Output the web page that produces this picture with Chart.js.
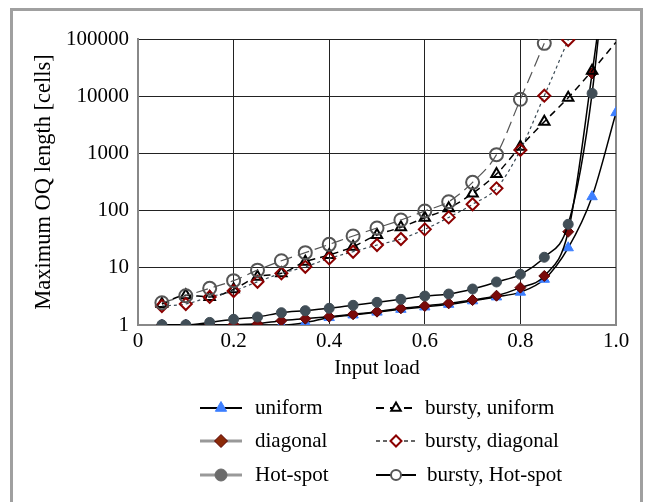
<!DOCTYPE html>
<html lang="en">
<head>
<meta charset="UTF-8">
<title>Maximum OQ length</title>
<script src="https://cdn.jsdelivr.net/npm/chart.js"></script>
<style>
    body { margin: 0; background: #fff; }
    #frame { position: absolute; left: 10px; top: 8px; width: 627px; height: 520px; border: 3px solid #a0a0a0; }
    #wrap { position: absolute; left: 0; top: 0; width: 646px; height: 502px; }
</style>
</head>
<body>
<div id="frame"></div>
<div id="wrap"><canvas id="chart"></canvas></div>
<script>
// input load
const loads = [0.05, 0.1, 0.15, 0.2, 0.25, 0.3, 0.35, 0.4, 0.45, 0.5,
               0.55, 0.6, 0.65, 0.7, 0.75, 0.8, 0.85, 0.9, 0.95, 1.0];

const uniform        = [1, 1, 1, 1, 1, 1.0, 1.1, 1.35, 1.5, 1.68, 1.88, 2.07, 2.3, 2.65, 3.1, 3.75, 6.3, 22.4, 175, 5150];
const diagonal       = [1, 1, 1, 1.02, 1.05, 1.19, 1.29, 1.4, 1.54, 1.71, 1.96, 2.15, 2.39, 2.73, 3.25, 4.5, 7.2, 42.7, 25000, 3e7];
const hotSpot        = [1.01, 1.01, 1.11, 1.26, 1.38, 1.64, 1.78, 1.96, 2.21, 2.49, 2.81, 3.21, 3.48, 4.26, 5.65, 7.7, 15.3, 57.6, 11200, 2e8];
const burstyUniform  = [2.33, 3.3, 3.1, 4.2, 7.0, 8.0, 12.8, 16.7, 23.4, 37.5, 51, 75, 110, 200, 437, 1310, 3580, 9420, 27900, 88000];
const burstyDiagonal = [2.15, 2.33, 3.1, 3.93, 5.7, 8.0, 10.4, 14.6, 19.1, 25, 31.9, 47, 76, 129, 245, 1150, 10200, 96000, null, null];
const burstyHotSpot  = [2.45, 3.25, 4.38, 5.96, 9.1, 13.3, 18.4, 25.7, 36, 49.7, 68.5, 98.5, 143, 312, 950, 8830, 84000, null, null, null];

const yTicks = [1, 10, 100, 1000, 10000, 100000];
const xTicks = [0, 0.2, 0.4, 0.6, 0.8, 1.0];
const xTickLabels = ['0', '0.2', '0.4', '0.6', '0.8', '1.0'];

const FONT = "'Liberation Serif', 'Times New Roman', serif";

function pts(values) {
    return loads.map((x, i) => ({ x: x, y: values[i] }));
}

const series = [
    { label: 'uniform', data: uniform, line: '#000', dash: [], lw: 1.5, style: 'triangle', r: 6, fill: '#3d7fff', stroke: '#3d7fff', bw: 1,
      legLine: '#000', legLw: 2, legDash: [], legR: 6.5, legFill: '#3d7fff', legStroke: '#3d7fff' },
    { label: 'diagonal', data: diagonal, line: '#000', dash: [], lw: 1.5, style: 'rectRot', r: 5.5, fill: '#7a0a0a', stroke: '#5a0000', bw: 1,
      legLine: '#999', legLw: 3, legDash: [], legR: 6.5, legFill: '#8b2a08', legStroke: '#5a0000' },
    { label: 'Hot-spot', data: hotSpot, line: '#000', dash: [], lw: 1.5, style: 'circle', r: 5, fill: '#414e57', stroke: '#414e57', bw: 1,
      legLine: '#999', legLw: 3, legDash: [], legR: 6, legFill: '#6b6b6b', legStroke: '#6b6b6b' },
    { label: 'bursty, uniform', data: burstyUniform, line: '#000', dash: [7, 5], lw: 1.5, style: 'triangle', r: 6, fill: 'rgba(0,0,0,0)', stroke: '#000', bw: 2,
      legLine: '#000', legLw: 2, legDash: [8, 6], legR: 5.5, legFill: '#fff', legStroke: '#000' },
    { label: 'bursty, diagonal', data: burstyDiagonal, line: '#3a4a55', dash: [3, 3], lw: 1.2, style: 'rectRot', r: 6, fill: 'rgba(0,0,0,0)', stroke: '#8b0000', bw: 2,
      legLine: '#333', legLw: 1.5, legDash: [4, 3], legR: 5.5, legFill: '#fff', legStroke: '#8b0000' },
    { label: 'bursty, Hot-spot', data: burstyHotSpot, line: '#555', dash: [12, 6], lw: 1.2, style: 'circle', r: 6.5, fill: 'rgba(0,0,0,0)', stroke: '#555', bw: 2,
      legLine: '#000', legLw: 2, legDash: [], legR: 5, legFill: '#fff', legStroke: '#555' }
];

// draws the 2x3 legend under the axis
const legendPlugin = {
    id: 'gridLegend',
    afterDraw(chart) {
        const ctx = chart.ctx;
        const rows = [408, 441, 475];
        const cols = [{ x0: 200, x1: 242, m: 221, t: 255 }, { x0: 376, x1: 416, m: 396, t: 425 }];
        ctx.save();
        series.forEach((s, i) => {
            const c = cols[Math.floor(i / 3)];
            const y = rows[i % 3];
            ctx.strokeStyle = s.legLine;
            ctx.lineWidth = s.legLw;
            ctx.setLineDash(s.legDash);
            ctx.beginPath();
            ctx.moveTo(c.x0, y);
            ctx.lineTo(c.x1, y);
            ctx.stroke();
            ctx.setLineDash([]);
            ctx.fillStyle = s.legFill;
            ctx.strokeStyle = s.legStroke;
            ctx.lineWidth = s.bw;
            Chart.helpers.drawPoint(ctx, { pointStyle: s.style, radius: s.legR, borderWidth: s.bw, rotation: 0 }, c.m, y);
            ctx.fillStyle = '#000';
            ctx.font = '21px ' + FONT;
            ctx.textBaseline = 'middle';
            ctx.textAlign = 'left';
            ctx.fillText(s.label, c.t + (i === 5 ? 2 : 0), y);
        });
        ctx.restore();
    }
};

const ctx = document.getElementById('chart').getContext('2d');
const chart = new Chart(ctx, {
    type: 'line',
    data: {
        datasets: series.map((s, i) => ({
            label: s.label,
            data: pts(s.data),
            borderColor: s.line,
            borderWidth: s.lw,
            borderDash: s.dash,
            pointStyle: s.style,
            pointRadius: (c) => (i === 3 && c.dataIndex === 19) ? 0 : s.r,
            pointBackgroundColor: s.fill,
            pointBorderColor: s.stroke,
            pointBorderWidth: s.bw,
            cubicInterpolationMode: 'monotone',
            fill: false,
            order: 6 - i
        }))
    },
    options: {
        responsive: true,
        maintainAspectRatio: false,
        animation: false,
        layout: { padding: { left: 13, right: 30, top: 39, bottom: 120 } },
        plugins: { legend: { display: false }, tooltip: { enabled: false } },
        scales: {
            x: {
                type: 'linear',
                min: 0, max: 1,
                afterFit: (s) => { s.height = 57; },
                afterBuildTicks: (s) => { s.ticks = xTicks.map(v => ({ value: v })); },
                ticks: {
                    padding: 4,
                    color: '#000',
                    font: { family: FONT, size: 21 },
                    callback: (v) => xTickLabels[xTicks.findIndex(t => Math.abs(t - v) < 1e-9)]
                },
                grid: {
                    drawTicks: false,
                    color: (c) => (c.tick && (c.tick.value === 0 || c.tick.value === 1)) ? '#888' : '#222',
                    lineWidth: (c) => (c.tick && (c.tick.value === 0 || c.tick.value === 1)) ? 2 : 1
                },
                border: { color: '#888', width: 2 },
                title: {
                    display: true, text: 'Input load', color: '#000',
                    font: { family: FONT, size: 21 }, padding: { top: 0, bottom: 1 }
                }
            },
            y: {
                type: 'logarithmic',
                min: 1, max: 100000,
                afterFit: (s) => { s.width = 125; },
                afterBuildTicks: (s) => { s.ticks = yTicks.map(v => ({ value: v })); },
                ticks: {
                    padding: 9,
                    color: '#000',
                    font: { family: FONT, size: 21 },
                    callback: (v) => String(v)
                },
                grid: {
                    drawTicks: false,
                    color: (c) => (c.tick && c.tick.value === 1) ? '#888' : '#222',
                    lineWidth: 1
                },
                border: { color: '#888', width: 2 },
                title: {
                    display: true, text: 'Maximum OQ length [cells]', color: '#000',
                    font: { family: FONT, size: 22.5 }, padding: { top: 18, bottom: 4 }
                }
            }
        }
    },
    plugins: [legendPlugin]
});
</script>
</body>
</html>
